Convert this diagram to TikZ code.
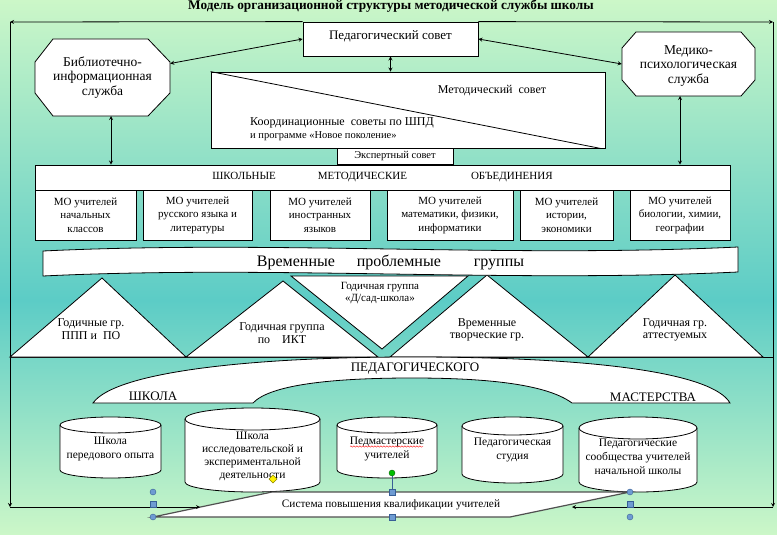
\documentclass[tikz,border=0pt]{standalone}
\usepackage{fontspec}
\setmainfont{Liberation Serif}
\usetikzlibrary{shapes.geometric, arrows, decorations.pathmorphing}

\definecolor{bgpale}{RGB}{204,247,200}
\definecolor{bgteal}{RGB}{92,204,198}
\definecolor{handleblue}{RGB}{110,155,210}
\definecolor{handleedge}{RGB}{55,95,150}

\tikzstyle{box} = [rectangle, draw=black, fill=white, align=center, inner sep=1pt, line width=0.8pt]
\tikzstyle{mobox} = [box, minimum height=50pt, font=\fontsize{11}{13.5}\selectfont]
\tikzstyle{txt} = [align=center, inner sep=1pt, font=\fontsize{12}{12.5}\selectfont]
\tikzstyle{octtext} = [txt, font=\fontsize{13.5}{14.5}\selectfont]
\tikzstyle{shapeline} = [draw=black, fill=white, line width=0.8pt]
\tikzstyle{storetext} = [txt, font=\fontsize{11.5}{14}\selectfont]
\tikzstyle{linkarrow} = [<->, >=stealth, line width=0.8pt]
\tikzstyle{frameline} = [->, >=stealth, line width=0.8pt]
\tikzstyle{sysline} = [draw={rgb,255:red,80;green,80;blue,80}, fill=white, line width=1.2pt]
\tikzstyle{handle} = [fill=handleblue, draw=handleedge, line width=0.4pt]

\begin{document}
\begin{tikzpicture}[x=1pt, y=-1pt]
    % background
    \shade[top color=bgpale, bottom color=bgteal] (0,0) rectangle (777,300);
    \shade[top color=bgteal, bottom color=bgpale] (0,300) rectangle (777,535);
    \useasboundingbox (0,0) rectangle (777,535);

    \node[font=\bfseries\fontsize{13.3}{15}\selectfont, inner sep=0pt] (title) at (391,6.5) {Модель организационной структуры методической службы школы};

    \coordinate (tl) at (10,22);
    \coordinate (tr) at (773,22);
    \coordinate (bl) at (10,507);
    \coordinate (br) at (773,507);
    \draw[frameline] (tl) -- (bl);
    \draw[frameline] (tr) -- (br);
    \coordinate (midl) at (10,357);
    \coordinate (midr) at (773,357);
    \draw[line width=0.8pt] (midl) -- (midr);

    % top level
    \node[box, minimum width=175pt, minimum height=34pt] (ped) at (390.5,39) {};
    \node[txt, font=\fontsize{13}{15}\selectfont] (pedtxt) at (390.5,36) {Педагогический совет};
    \draw[frameline] (ped.north west) -- (tl);
    \draw[frameline] (ped.north east) -- (tr);

    \draw[shapeline] (53,39) -- (148,39) -- (170,62) -- (170,93) -- (148,116) -- (53,116) -- (35,93) -- (35,62) -- cycle;
    \node[octtext, minimum width=135pt, minimum height=77pt] (bib) at (102.5,77.5) {Библиотечно-\\информационная\\служба};
    \draw[shapeline] (636,32) -- (741,32) -- (755,48) -- (755,80) -- (741,96) -- (636,96) -- (622,80) -- (622,48) -- cycle;
    \node[octtext, minimum width=133pt, minimum height=64pt] (med) at (688.5,66) {Медико-\\психологическая\\служба};

    \node[box, minimum width=394pt, minimum height=76pt] (metod) at (408,110) {};
    \draw[line width=0.8pt] (metod.north west) -- ([xshift=-5pt]metod.south east);
    \node[txt, font=\fontsize{12}{13}\selectfont] (metodtxt) at (492,91) {Методический\ \ совет};
    \node[txt, anchor=west, font=\fontsize{12}{14}\selectfont] (koord) at (249,123) {Координационные\ \ советы по ШПД};
    \node[txt, anchor=west, font=\fontsize{10.5}{11}\selectfont] (progr) at (249,136) {и программе «Новое поколение»};
    \node[box, minimum width=116pt, minimum height=16pt, font=\fontsize{10.5}{11}\selectfont] (expert) at (395,156) {Экспертный совет};

    % school methodical unions
    \node[box, minimum width=695pt, minimum height=25pt, font=\fontsize{11}{12}\selectfont] (mobar) at (382.5,177.5) {ШКОЛЬНЫЕ\hspace{42pt}МЕТОДИЧЕСКИЕ\hspace{64pt}ОБЪЕДИНЕНИЯ};
    \node[mobox, minimum width=101pt] (mo1) at (85.5,215) {МО учителей\\начальных\\классов};
    \node[mobox, minimum width=109pt] (mo2) at (197.5,215) {МО учителей\\русского языка и\\литературы};
    \node[mobox, minimum width=100pt] (mo3) at (320,215) {МО учителей\\иностранных\\языков};
    \node[mobox, minimum width=126pt] (mo4) at (450,215) {МО учителей\\математики, физики,\\информатики};
    \node[mobox, minimum width=93pt] (mo5) at (566.5,215) {МО учителей\\истории,\\экономики};
    \node[mobox, minimum width=100pt] (mo6) at (680,215) {МО учителей\\биологии, химии,\\географии};

    \coordinate (bibfoot) at (111,116);
    \coordinate (medfoot) at (680,96);
    \draw[linkarrow] ([yshift=14pt]bib.east) -- (ped.west);
    \draw[linkarrow] (ped.east) -- ([yshift=2pt]med.west);
    \draw[linkarrow] (ped.south) -- (ped.south |- metod.north);
    \draw[linkarrow] (bibfoot) -- (bibfoot |- mobar.north);
    \draw[linkarrow] (medfoot) -- (medfoot |- mobar.north);

    % groups
    \draw[shapeline] (10,357) -- (102,278) -- (186,357) -- cycle;
    \draw[shapeline] (186,357) -- (283,281) -- (378,357) -- cycle;
    \draw[shapeline] (291,276) -- (468,276) -- (382,349) -- cycle;
    \draw[shapeline] (390,357) -- (487,275) -- (588,357) -- cycle;
    \draw[shapeline] (588,357) -- (675,275) -- (763,357) -- cycle;
    \node[txt] (t1) at (91,329) {Годичные гр.\\ППП и\ \ ПО};
    \node[txt] (t2) at (282,333) {Годичная группа\\по\ \ \ \ ИКТ};
    \node[txt, font=\fontsize{11}{12}\selectfont] (t3) at (380,293) {Годичная группа\\«Д/сад-школа»};
    \node[txt] (t4) at (487,330) {Временные\\творческие гр.};
    \node[txt] (t5) at (675,330) {Годичная гр.\\аттестуемых};

    \draw[shapeline] (43,251) .. controls (275,240) and (505,258) .. (738,247) -- (738,272) .. controls (505,283) and (275,265) .. (43,276) -- cycle;
    \node[txt, font=\fontsize{16}{17}\selectfont] (vpg) at (390.5,262) {Временные\hspace{22pt}проблемные\hspace{33pt}группы};

    % school of mastery
    \draw[shapeline] (93,403) .. controls (115,372) and (250,357) .. (412,357) .. controls (590,357) and (712,372) .. (730,403)
    -- (572,403) .. controls (545,383) and (480,378) .. (412,378) .. controls (330,378) and (270,385) .. (253,403) -- cycle;
    \node[txt, font=\fontsize{13}{14}\selectfont] (pedag) at (415,369) {ПЕДАГОГИЧЕСКОГО};
    \node[txt, font=\fontsize{13}{14}\selectfont] (shkola) at (153,396) {ШКОЛА};
    \node[txt, font=\fontsize{13}{14}\selectfont] (master) at (653,397) {МАСТЕРСТВА};

    \draw[shapeline] (60,425) -- (60,470) arc (180:360:50.5pt and 8pt) -- (161,425) arc (0:180:50.5pt and 8pt) -- cycle;
    \draw[line width=0.8pt] (60,425) arc (180:360:50.5pt and 8pt);
    \draw[shapeline] (185,419) -- (185,482) arc (180:360:67.5pt and 10pt) -- (320,419) arc (0:180:67.5pt and 11pt) -- cycle;
    \draw[line width=0.8pt] (185,419) arc (180:360:67.5pt and 11pt);
    \draw[shapeline] (337,425) -- (337,470) arc (180:360:50pt and 8pt) -- (437,425) arc (0:180:50pt and 8pt) -- cycle;
    \draw[line width=0.8pt] (337,425) arc (180:360:50pt and 8pt);
    \draw[shapeline] (462,426) -- (462,474) arc (180:360:50.5pt and 9pt) -- (563,426) arc (0:180:50.5pt and 9pt) -- cycle;
    \draw[line width=0.8pt] (462,426) arc (180:360:50.5pt and 9pt);
    \draw[shapeline] (579,428) -- (579,482) arc (180:360:59pt and 10pt) -- (697,428) arc (0:180:59pt and 11pt) -- cycle;
    \draw[line width=0.8pt] (579,428) arc (180:360:59pt and 11pt);
    \node[storetext] (c1) at (110.5,448.5) {Школа\\передового опыта};
    \node[storetext, font=\fontsize{11.5}{13}\selectfont] (c2) at (252.5,456.5) {Школа\\исследовательской и\\экспериментальной\\деятельности};
    \node[storetext] (c3) at (387,448.5) {Педмастерские\\учителей};
    \node[storetext] (c4) at (512.5,449.5) {Педагогическая\\студия};
    \node[storetext] (c5) at (638,457) {Педагогические\\сообщества учителей\\начальной школы};
    \draw[red, line width=0.4pt, decorate, decoration={snake, amplitude=0.7pt, segment length=3pt}] (350,446.5) -- (423,446.5);

    % qualification
    \draw[sysline] (153,517) -- (272,492) -- (630,492) -- (510,517) -- cycle;
    \node[txt, font=\fontsize{11.3}{12}\selectfont] (sys) at (391,505) {Система повышения квалификации учителей};
    \coordinate (sysl) at (200,507);
    \coordinate (sysr) at (572,507);
    \draw[frameline] (bl) -- (sysl);
    \draw[frameline] (br) -- (sysr);

    % selection handles
    \filldraw[handle] (153,492) circle (3pt);
    \filldraw[handle] (150,501) rectangle (156,507);
    \filldraw[handle] (153,517) circle (3pt);
    \filldraw[handle] (630,492) circle (3pt);
    \filldraw[handle] (627,501) rectangle (633,507);
    \filldraw[handle] (630,517) circle (3pt);
    \draw[handleedge, line width=0.6pt] (392,476) -- (392,489);
    \filldraw[fill=green!75!black, draw=green!40!black, line width=0.4pt] (392,473) circle (3pt);
    \filldraw[handle] (389,489) rectangle (395,495);
    \filldraw[handle] (389,514) rectangle (395,520);
    \filldraw[fill=yellow, draw=olive, line width=0.4pt] (273,475) -- (277,479) -- (273,483) -- (269,479) -- cycle;
\end{tikzpicture}
\end{document}
